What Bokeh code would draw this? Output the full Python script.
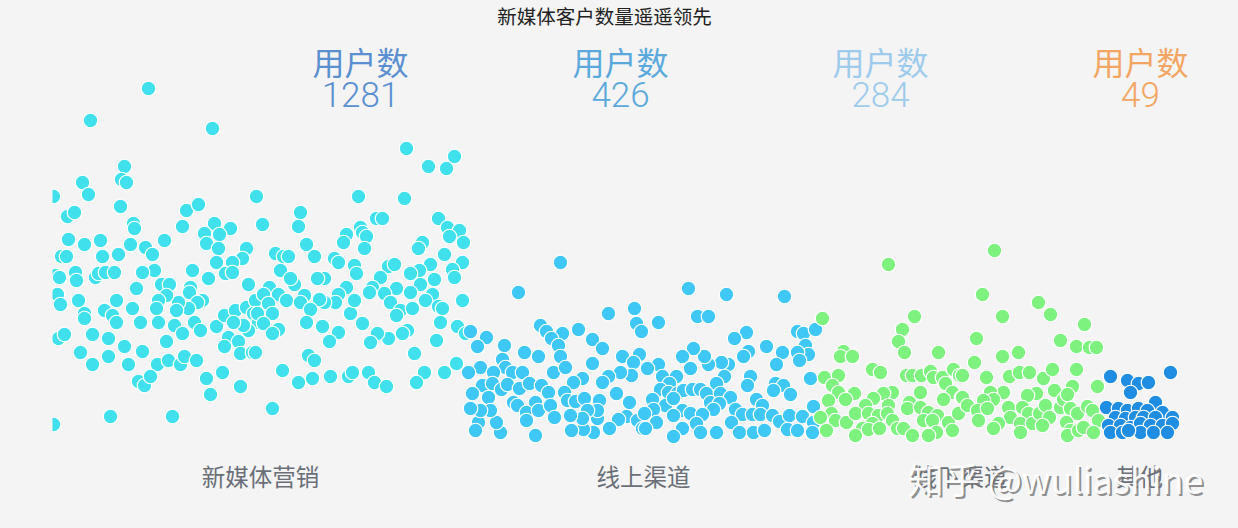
from bokeh.plotting import figure
from bokeh.models import Range1d, ColumnDataSource
from bokeh.core.properties import value
from bokeh.embed import file_html
from bokeh.resources import INLINE

# ---------------- data ----------------
title_text = "新媒体客户数量遥遥领先"
categories = ["新媒体营销", "线上渠道", "线下渠道", "其他"]
user_counts = [1281, 426, 284, 49]
header_label = "用户数"
watermark = "知乎 @wuliashine"

new_media_pts = [
    (148, 88), (90, 120), (212, 128), (406, 148), (454, 156), (428, 166), (446, 168),
    (124, 166), (121, 179), (126, 182), (82, 182), (88, 194), (53, 196), (120, 206), (186, 210),
    (198, 204), (67, 216), (74, 212), (133, 223), (134, 228), (182, 226), (214, 223), (230, 228),
    (204, 233), (219, 234), (206, 243), (218, 248), (246, 248), (242, 258), (232, 262), (216, 262),
    (68, 239), (84, 244), (100, 240), (130, 244), (164, 240), (145, 247), (152, 254), (61, 256),
    (66, 256), (102, 256), (118, 254), (154, 270), (142, 272), (192, 270), (208, 278), (225, 273),
    (232, 272), (248, 284), (55, 275), (59, 277), (75, 272), (76, 280), (95, 277), (98, 273),
    (105, 272), (114, 272), (136, 288), (161, 284), (169, 284), (190, 287), (189, 292), (202, 300),
    (197, 302), (188, 308), (178, 302), (176, 310), (166, 295), (158, 300), (156, 308), (57, 294),
    (60, 304), (78, 300), (116, 300), (132, 308), (84, 313), (84, 318), (104, 310), (112, 315),
    (116, 322), (140, 322), (158, 322), (174, 325), (182, 333), (194, 322), (200, 330), (216, 326),
    (224, 315), (235, 310), (246, 307), (255, 300), (253, 313), (258, 322), (248, 330), (243, 325),
    (233, 322), (228, 337), (224, 346), (238, 341), (240, 353), (252, 352), (58, 338), (64, 334),
    (92, 334), (108, 338), (124, 346), (142, 351), (166, 341), (80, 352), (92, 364), (108, 356),
    (128, 364), (157, 364), (168, 360), (180, 364), (184, 356), (196, 360), (138, 381), (144, 385),
    (150, 376), (206, 378), (222, 372), (240, 386), (210, 394), (110, 416), (172, 416), (53, 424),
    (256, 196), (358, 196), (404, 198), (300, 212), (262, 224), (298, 226), (376, 218), (382, 218),
    (438, 218), (447, 227), (459, 230), (449, 236), (463, 242), (346, 234), (343, 242), (360, 227),
    (362, 232), (366, 236), (364, 248), (422, 242), (418, 248), (306, 244), (314, 256), (275, 253),
    (283, 256), (288, 256), (280, 270), (334, 258), (338, 262), (354, 265), (356, 273), (388, 266),
    (394, 264), (444, 254), (462, 262), (430, 264), (419, 270), (410, 273), (452, 269), (454, 277),
    (434, 279), (420, 284), (410, 292), (396, 288), (380, 277), (372, 287), (369, 292), (384, 293),
    (390, 302), (400, 310), (396, 315), (412, 308), (432, 294), (425, 300), (438, 306), (442, 308),
    (462, 300), (440, 322), (457, 326), (465, 333), (436, 340), (407, 330), (402, 333), (388, 338),
    (377, 333), (370, 342), (362, 323), (350, 313), (354, 300), (346, 287), (338, 294), (335, 302),
    (324, 302), (319, 299), (324, 278), (317, 278), (294, 284), (290, 278), (269, 287), (263, 294),
    (278, 294), (286, 300), (304, 295), (300, 302), (310, 309), (268, 303), (272, 313), (257, 313),
    (263, 323), (278, 329), (272, 333), (306, 322), (322, 326), (338, 332), (329, 341), (255, 352),
    (308, 355), (314, 360), (282, 370), (298, 382), (312, 378), (330, 376), (348, 376), (352, 372),
    (368, 372), (374, 382), (386, 386), (414, 353), (424, 372), (416, 382), (444, 372), (456, 363),
    (272, 408),
]

online_pts = [
    (560, 262), (518, 292), (608, 313), (634, 308), (636, 323), (641, 331), (540, 325), (546, 331),
    (562, 333), (551, 338), (558, 345), (578, 329), (592, 339), (602, 348), (470, 331), (486, 337),
    (477, 346), (504, 345), (524, 352), (538, 356), (560, 356), (502, 359), (505, 367), (480, 367),
    (493, 372), (512, 372), (522, 372), (553, 372), (565, 367), (592, 363), (622, 356), (639, 354),
    (633, 362), (631, 375), (620, 372), (608, 376), (602, 382), (582, 378), (573, 382), (482, 385),
    (492, 383), (501, 389), (507, 384), (519, 388), (529, 383), (541, 385), (548, 392), (564, 392),
    (472, 393), (488, 397), (513, 402), (517, 405), (535, 402), (526, 412), (526, 420), (538, 410),
    (550, 405), (554, 417), (567, 400), (575, 401), (584, 398), (599, 400), (616, 393), (629, 402),
    (626, 416), (618, 419), (609, 428), (593, 432), (583, 429), (597, 418), (597, 410), (587, 410),
    (582, 418), (570, 415), (571, 430), (535, 435), (500, 432), (496, 422), (478, 422), (475, 430),
    (490, 410), (480, 410), (470, 408), (468, 372), (637, 420), (642, 428),
    (688, 288), (726, 294), (784, 296), (697, 316), (708, 316), (658, 322), (746, 332), (734, 338),
    (766, 346), (782, 352), (797, 331), (803, 333), (815, 329), (805, 345), (808, 354), (797, 352),
    (799, 360), (776, 364), (748, 351), (743, 356), (728, 364), (721, 362), (708, 364), (704, 356),
    (693, 348), (682, 356), (690, 368), (658, 364), (647, 368), (662, 376), (676, 376), (669, 383),
    (724, 376), (716, 383), (750, 376), (747, 385), (775, 383), (783, 385), (773, 390), (810, 378),
    (790, 394), (660, 389), (668, 392), (677, 393), (683, 390), (692, 389), (700, 389), (706, 393),
    (710, 402), (720, 393), (730, 397), (719, 403), (713, 409), (652, 399), (665, 405), (673, 398),
    (653, 409), (644, 413), (682, 410), (690, 413), (702, 414), (673, 415), (756, 399), (762, 405),
    (735, 409), (742, 414), (752, 414), (760, 414), (772, 415), (779, 421), (789, 415), (802, 416),
    (813, 406), (813, 422), (656, 422), (645, 428), (682, 428), (673, 436), (696, 423), (700, 432),
    (716, 432), (731, 422), (739, 432), (753, 432), (764, 430), (787, 429), (797, 430), (812, 432),
]

offline_pts = [
    (888, 264), (822, 318), (914, 316), (902, 329), (898, 341), (904, 352), (938, 352), (843, 351),
    (840, 356), (852, 356), (872, 369), (880, 372), (906, 375), (912, 375), (921, 375), (930, 371),
    (933, 377), (942, 377), (953, 369), (959, 375), (824, 377), (838, 375), (832, 385), (838, 392),
    (854, 393), (828, 400), (845, 399), (892, 392), (883, 393), (873, 398), (865, 405), (920, 392),
    (945, 383), (952, 392), (943, 399), (961, 397), (909, 402), (907, 408), (920, 407), (888, 405),
    (928, 412), (937, 415), (831, 413), (820, 417), (835, 420), (846, 422), (855, 413), (868, 413),
    (878, 415), (887, 413), (892, 420), (872, 423), (862, 428), (855, 435), (868, 429), (879, 428),
    (897, 428), (903, 428), (912, 435), (923, 420), (932, 420), (936, 432), (948, 422), (952, 430),
    (958, 413), (826, 430), (928, 435),
    (994, 250), (982, 294), (1038, 302), (1050, 314), (1002, 316), (1084, 324), (976, 338),
    (1060, 340), (1076, 346), (1089, 347), (1096, 347), (1002, 356), (1018, 352), (974, 362),
    (962, 375), (986, 377), (1009, 376), (1019, 372), (1029, 372), (1043, 378), (1052, 369),
    (1076, 369), (1097, 386), (1072, 386), (1054, 390), (1036, 393), (1027, 395), (1003, 392),
    (990, 392), (993, 399), (983, 400), (962, 397), (967, 405), (977, 410), (987, 408), (978, 420),
    (1008, 407), (1022, 407), (1028, 413), (1010, 417), (998, 423), (993, 428), (1020, 423),
    (1020, 432), (1032, 423), (1039, 413), (1045, 405), (1049, 417), (1042, 425), (1060, 407),
    (1063, 399), (1067, 394), (1070, 408), (1077, 413), (1087, 406), (1092, 410), (1098, 420),
    (1066, 422), (1070, 430), (1067, 435), (1078, 430), (1083, 427), (1093, 432),
]

other_pts = [
    (1110, 376), (1127, 380), (1138, 383), (1148, 382), (1170, 372), (1130, 392), (1155, 402),
    (1106, 407), (1118, 408), (1127, 410), (1138, 408), (1147, 410), (1162, 412), (1115, 417),
    (1125, 418), (1135, 417), (1143, 417), (1155, 417), (1172, 417), (1108, 425), (1120, 425),
    (1130, 427), (1140, 423), (1150, 425), (1162, 425), (1172, 423), (1110, 432), (1122, 432),
    (1140, 432), (1153, 432), (1167, 432), (1128, 430),
]

# ---------------- styles / layout ----------------
BG = "#f4f4f4"
dot_colors = ["#40e1ec", "#3fc7f5", "#7ef27f", "#1f8de2"]
header_colors = ["#5a8fd0", "#5aa8dc", "#9ecbec", "#f3a663"]
region_edges = [52, 468, 818, 1102, 1176]
FONT = value("Noto Sans CJK SC")

p = figure(width=1222, height=512, output_backend="svg", toolbar_location=None,
           x_range=Range1d(0, 1222), y_range=Range1d(512, 0),
           min_border=0, background_fill_color=BG, border_fill_color=BG)
p.outline_line_color = None
p.axis.visible = False
p.grid.visible = False

groups = [new_media_pts, online_pts, offline_pts, other_pts]
for pts, col in zip(groups, dot_colors):
    src = ColumnDataSource(dict(x=[a for a, b in pts], y=[b for a, b in pts]))
    p.scatter("x", "y", source=src, size=14.5, fill_color=col, line_color="white", line_width=1.2)

# clip the leftmost edge of the first region
p.quad(left=[0], right=[region_edges[0]], top=[60], bottom=[450], fill_color=BG, line_color=None)

# title
p.text(x=[604], y=[15], text=[title_text], text_font=FONT, text_font_size="19.5px",
       text_color="#222222", text_align="center", text_baseline="middle")

# headers
hx = [360 + 260 * i for i in range(4)]
p.text(x=hx, y=[60] * 4, text=[header_label] * 4, text_font=FONT, text_font_size="32px",
       text_color=header_colors, text_align="center", text_baseline="middle")
p.text(x=hx, y=[94] * 4, text=[str(v) for v in user_counts], text_font=value("Roboto Light, Roboto"),
       text_font_size="35px", text_color=header_colors, text_align="center", text_baseline="middle")

# category labels
cx = [(region_edges[i] + region_edges[i + 1]) / 2 for i in range(4)]
p.text(x=cx, y=[475] * 4, text=categories, text_font=FONT, text_font_size="23.5px",
       text_color="#6a6f78", text_align="center", text_baseline="middle")

# watermark
p.text(x=[1057], y=[479], text=[watermark], text_font=FONT, text_font_size="36px",
       text_color="#6f6f6f", text_alpha=0.75, text_align="center", text_baseline="middle")
p.text(x=[1055], y=[477], text=[watermark], text_font=FONT, text_font_size="36px",
       text_color="#ffffff", text_alpha=0.95, text_align="center", text_baseline="middle")

html = file_html(p, INLINE)
html = html.replace("<head>", "<head><style>body{background:#f4f4f4;margin:8px;}</style>", 1)
open("out.html", "w").write(html)
